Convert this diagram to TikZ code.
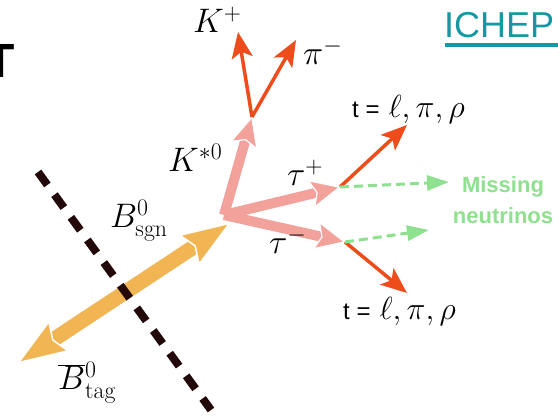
\RequirePackage{fix-cm}
\documentclass[tikz,border=0pt]{standalone}
\usepackage{fontspec}
\newfontfamily\arialf{Liberation Sans}
\usetikzlibrary{arrows.meta}
\definecolor{bcol}{HTML}{F2B553}
\definecolor{pcol}{HTML}{F3A19B}
\definecolor{rcol}{HTML}{EF4C1C}
\definecolor{gcol}{HTML}{8FE08F}
\definecolor{dcol}{HTML}{220808}
\definecolor{icol}{HTML}{1598A2}
\begin{document}
\begin{tikzpicture}[x=1pt,y=-1pt,
  bline/.style={line width=15pt, bcol,
    -{Stealth[length=51pt,width=37pt,inset=7pt,round,fill=bcol,color=white,line width=1.5pt]}},
  pline/.style={line width=10pt, pcol,
    -{Stealth[length=31pt,width=29pt,inset=6pt,round,fill=pcol,color=white,line width=1.2pt]}},
  rline/.style={line width=3.5pt, rcol,
    -{Stealth[length=26pt,width=21pt,inset=6pt]}},
  gline/.style={line width=3pt, gcol, dash pattern=on 9pt off 5pt,
    -{Triangle[length=22pt,width=15pt]}},
  cutline/.style={line width=8pt, dcol, dash pattern=on 16pt off 12pt},
  lab/.style={inner sep=0pt, anchor=base west, font=\fontsize{34}{40}\selectfont},
  tlab/.style={inner sep=0pt, anchor=base west, font=\fontsize{32}{38}\selectfont},
  glab/.style={inner sep=0pt, anchor=base, text=gcol, font=\arialf\bfseries\fontsize{22}{26}\selectfont}
]
\fill[white] (0,0) rectangle (558,417);
\useasboundingbox (0,0) rectangle (558,417);

% coordinates
\coordinate (Btag) at (18,363);
\coordinate (Bsgn) at (230,223);
\coordinate (Bmid) at (124,293);
\coordinate (sA) at (119,285.5);
\coordinate (sB) at (129,300.5);
\coordinate (V) at (224,215);
\coordinate (Kst) at (252,117);
\coordinate (taup) at (340,187);
\coordinate (taum) at (345,242);
\coordinate (Kp) at (238,32);
\coordinate (pim) at (296,40);
\coordinate (tp) at (407,125);
\coordinate (tm) at (407,293);
\coordinate (nup) at (449,182);
\coordinate (num) at (429,230);
\coordinate (dA) at (38,172);
\coordinate (dB) at (211,410);

% B mesons
\draw[bline] (Bmid) -- (Btag);
\draw[bline] (Bmid) -- (Bsgn);
\draw[white, line width=1.5pt] (sA) -- (sB);
\draw[cutline] (dA) -- (dB);

% primary decay products
\draw[pline] (V) -- (Kst);
\draw[pline] (V) -- (taup);
\draw[pline] (V) -- (taum);

% secondary
\draw[rline] (Kst) -- (Kp);
\draw[rline] (Kst) -- (pim);
\draw[rline] (taup) -- (tp);
\draw[rline] (taum) -- (tm);
\draw[gline] (taup) -- (nup);
\draw[gline] (taum) -- (num);

% labels
\node[lab] (lKp) at (193,33) {$K^+$};
\node[lab] (lpim) at (303,65) {$\pi^-$};
\node[lab] (lKst) at (168,172) {$K^{*0}$};
\node[lab] (ltaup) at (287,186) {$\tau^+$};
\node[lab] (ltaum) at (269,254) {$\tau^-$};
\node[lab] (lBsgn) at (110,228) {$B^0_{\mathrm{sgn}}$};
\node[lab] (lBtag) at (58,390) {$\overline{B}{}^0_{\mathrm{tag}}$};
\node[tlab] (ttop) at (352,118) {{\arialf\fontsize{24}{28}\selectfont t =}\hspace{9pt}$\ell, \pi, \rho$};
\node[tlab] (tbot) at (343,320) {{\arialf\fontsize{24}{28}\selectfont t =}\hspace{9pt}$\ell, \pi, \rho$};
\node[glab] (miss1) at (503,193) {Missing};
\node[glab] (miss2) at (503,224) {neutrinos};

% slide fragments
\node[inner sep=0pt, anchor=base west, font=\arialf\bfseries\fontsize{48}{50}\selectfont] (T) at (-15,78) {T};
\node[inner sep=0pt, anchor=base west, text=icol, font=\arialf\fontsize{36}{40}\selectfont] (ichep) at (444,38) {ICHEP};
\draw[icol, line width=4pt] (ichep.base west) ++(1,7) -- ++(120,0);
\end{tikzpicture}
\end{document}
